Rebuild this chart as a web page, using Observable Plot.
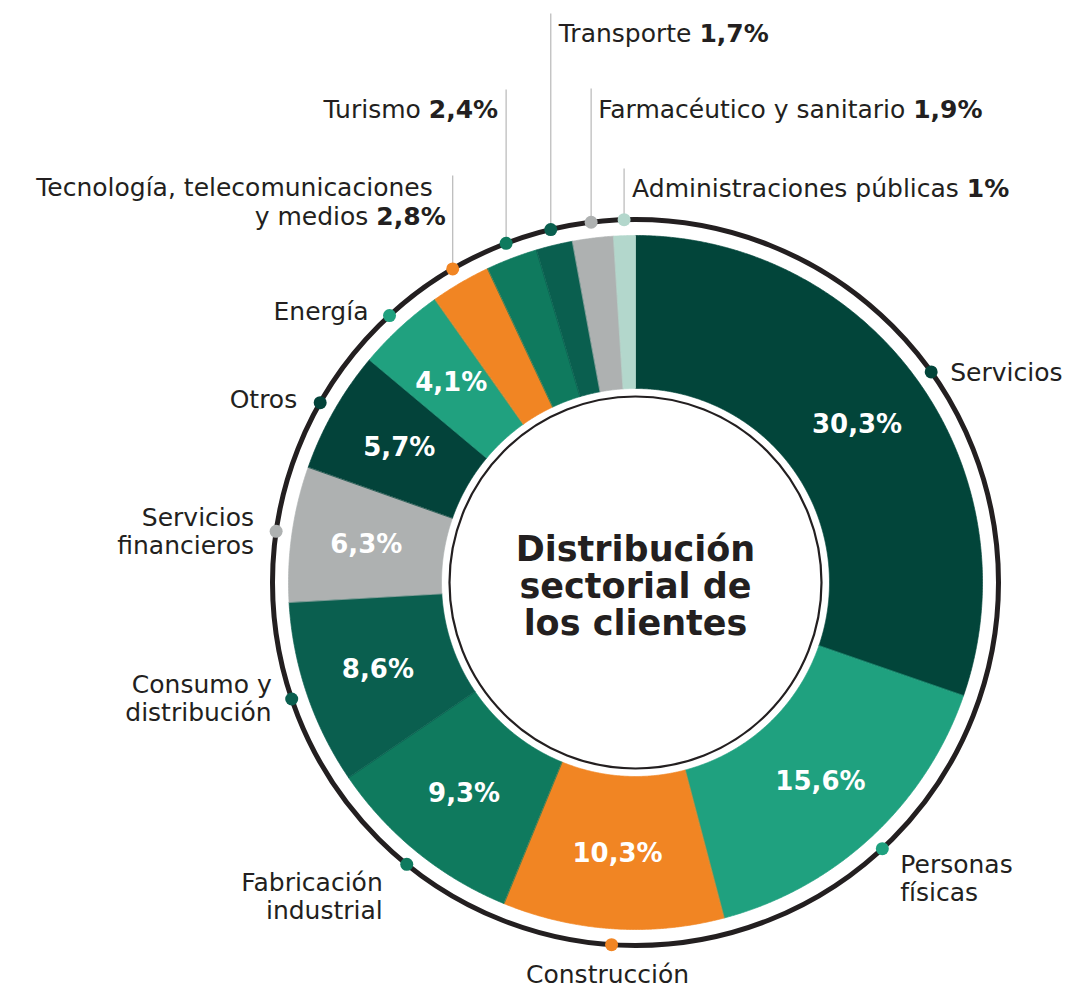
<!DOCTYPE html>
<html><head><meta charset="utf-8">
<script src="https://cdn.jsdelivr.net/npm/d3@7"></script>
<script src="https://cdn.jsdelivr.net/npm/@observablehq/plot@0.6"></script>
<style>body{margin:0;background:#fff}</style>
</head><body><div id="chart"></div>
<script>
// ---- data ----
const sectors = ["Servicios","Personas físicas","Construcción","Fabricación industrial","Consumo y distribución","Servicios financieros","Otros","Energía","Tecnología, telecomunicaciones y medios","Turismo","Transporte","Farmacéutico y sanitario","Administraciones públicas"];
const values = [30.3,15.6,10.3,9.3,8.6,6.3,5.7,4.1,2.8,2.4,1.7,1.9,1];
const valueLabels = ["30,3%","15,6%","10,3%","9,3%","8,6%","6,3%","5,7%","4,1%","2,8%","2,4%","1,7%","1,9%","1%"];
const labelLines = [["Servicios"],["Personas","físicas"],["Construcción"],["Fabricación","industrial"],["Consumo y","distribución"],["Servicios","financieros"],["Otros"],["Energía"],["Tecnología, telecomunicaciones","y medios"],["Turismo"],["Transporte"],["Farmacéutico y sanitario"],["Administraciones públicas"]];
const title = "Distribución\nsectorial de\nlos clientes";

// ---- styles ----
const colors = ["#02453a","#1fa17f","#f18523","#0f7a5e","#0a5f4f","#aeb1b1","#03433a","#20a17f","#f18523","#0f7a5e","#0a5f4f","#aeb1b1","#b3d7cc"];
const ink = "#231f20";
const FONT = "DejaVu Sans";
const FS = 25;

// ---- layout ----
const W = 1066, H = 990;
const cx = 635, cy = 582, rOuter = 347, rInner = 194, rRing = 363, rHole = 186, rPct = 272;
const labelLayout = [
  {mode:"ring", anchor:"start", dx:19, dy:9},
  {mode:"ring", anchor:"start", dx:18, dy:24},
  {mode:"ring", anchor:"middle", dx:-4, dy:38},
  {mode:"ring", anchor:"end", dx:-24, dy:27},
  {mode:"ring", anchor:"end", dx:-20, dy:-6},
  {mode:"ring", anchor:"end", dx:-22, dy:-5},
  {mode:"ring", anchor:"end", dx:-23, dy:5},
  {mode:"ring", anchor:"end", dx:-21, dy:4},
  {mode:"leader", top:175, anchor:"end", lineDx:[-20,-7], dy:49},
  {mode:"leader", top:89, anchor:"end", lineDx:[-8], dy:28},
  {mode:"leader", top:13, anchor:"start", lineDx:[8], dy:28},
  {mode:"leader", top:88, anchor:"start", lineDx:[7], dy:29},
  {mode:"leader", top:168, anchor:"start", lineDx:[8], dy:28}
];
const lineGap = 28;

// ---- geometry from data ----
const total = d3.sum(values);
let acc = 0;
const arcs = values.map((v, i) => {
  const a0 = acc / total * 2 * Math.PI; acc += v;
  const a1 = acc / total * 2 * Math.PI;
  return {i, name: sectors[i], a0, a1, mid: (a0 + a1) / 2};
});
const pt = (r, a) => ({x: cx + r * Math.sin(a), y: cy - r * Math.cos(a)});
const slicePts = arcs.map(a => {
  const n = Math.max(2, Math.ceil((a.a1 - a.a0) / (Math.PI / 720)));
  const pts = [];
  for (let k = 0; k <= n; k++) pts.push(pt(rOuter, a.a0 + (a.a1 - a.a0) * k / n));
  for (let k = n; k >= 0; k--) pts.push(pt(rInner, a.a0 + (a.a1 - a.a0) * k / n));
  return pts;
});
const dots = arcs.map(a => ({...pt(rRing, a.mid), color: colors[a.i]}));
const pctRows = arcs.filter(a => labelLayout[a.i].mode === "ring").map(a => ({...pt(rPct, a.mid), text: valueLabels[a.i]}));
const leaders = arcs.filter(a => labelLayout[a.i].mode === "leader").map(a => ({x: dots[a.i].x, y1: dots[a.i].y, y2: labelLayout[a.i].top}));

// text measurement for mixed regular/bold runs
const ctx = document.createElement("canvas").getContext("2d");
const measure = (t, bold) => { ctx.font = `${bold ? "bold " : ""}${FS}px "${FONT}"`; return ctx.measureText(t).width; };
const space = measure(" ", false);

const runs = [];
arcs.forEach(a => {
  const L = labelLayout[a.i], d = dots[a.i], lines = labelLines[a.i];
  if (L.mode === "ring") {
    lines.forEach((t, j) => runs.push({x: d.x + L.dx, y: d.y + L.dy + j * lineGap, text: t, anchor: L.anchor, bold: false}));
  } else {
    const n = lines.length;
    lines.forEach((t, j) => {
      const y = L.top + L.dy - (n - 1 - j) * 29;
      const x = d.x + (L.lineDx[j] ?? L.lineDx[0]);
      if (j === n - 1) {
        const val = valueLabels[a.i];
        if (L.anchor === "start") {
          runs.push({x, y, text: t, anchor: "start", bold: false});
          runs.push({x: x + measure(t, false) + space, y, text: val, anchor: "start", bold: true});
        } else {
          runs.push({x, y, text: val, anchor: "end", bold: true});
          runs.push({x: x - measure(val, true) - space, y, text: t, anchor: "end", bold: false});
        }
      } else {
        runs.push({x, y, text: t, anchor: L.anchor, bold: false});
      }
    });
  }
});

const textMarks = [];
for (const anchor of ["start","middle","end"]) for (const bold of [false,true]) {
  textMarks.push(Plot.text(runs, {filter: d => d.anchor === anchor && d.bold === bold, x: "x", y: "y", text: "text",
    textAnchor: anchor, lineAnchor: "bottom", fontSize: FS, fontWeight: bold ? "bold" : "normal", fill: ink}));
}

const chart = Plot.plot({
  width: W, height: H, margin: 0,
  x: {domain: [0, W], range: [0, W], axis: null},
  y: {domain: [0, H], range: [0, H], axis: null},
  style: {fontFamily: FONT, background: "white"},
  marks: [
    ...slicePts.map((pts, i) => Plot.line(pts, {x: "x", y: "y", curve: "linear-closed", fill: colors[i], stroke: colors[i], strokeWidth: 0.7})),
    Plot.dot([{x: cx, y: cy}], {x: "x", y: "y", r: rHole, fill: "white", stroke: ink, strokeWidth: 2.2}),
    Plot.dot([{x: cx, y: cy}], {x: "x", y: "y", r: rRing, fill: "none", stroke: ink, strokeWidth: 5}),
    Plot.link(leaders, {x1: "x", x2: "x", y1: "y1", y2: "y2", stroke: "#bdbdbd", strokeWidth: 1.3}),
    Plot.dot(dots, {x: "x", y: "y", r: 6.5, fill: "color", stroke: null}),
    Plot.text(pctRows, {x: "x", y: "y", text: "text", fill: "white", fontSize: 26, fontWeight: "bold", lineAnchor: "middle"}),
    ...textMarks,
    Plot.text([{x: cx, y: cy + 4, t: title}], {x: "x", y: "y", text: "t", fontSize: 35, fontWeight: "bold", fill: ink, lineHeight: 1.06, lineAnchor: "middle"})
  ]
});
document.getElementById("chart").append(chart);
</script>
</body></html>
